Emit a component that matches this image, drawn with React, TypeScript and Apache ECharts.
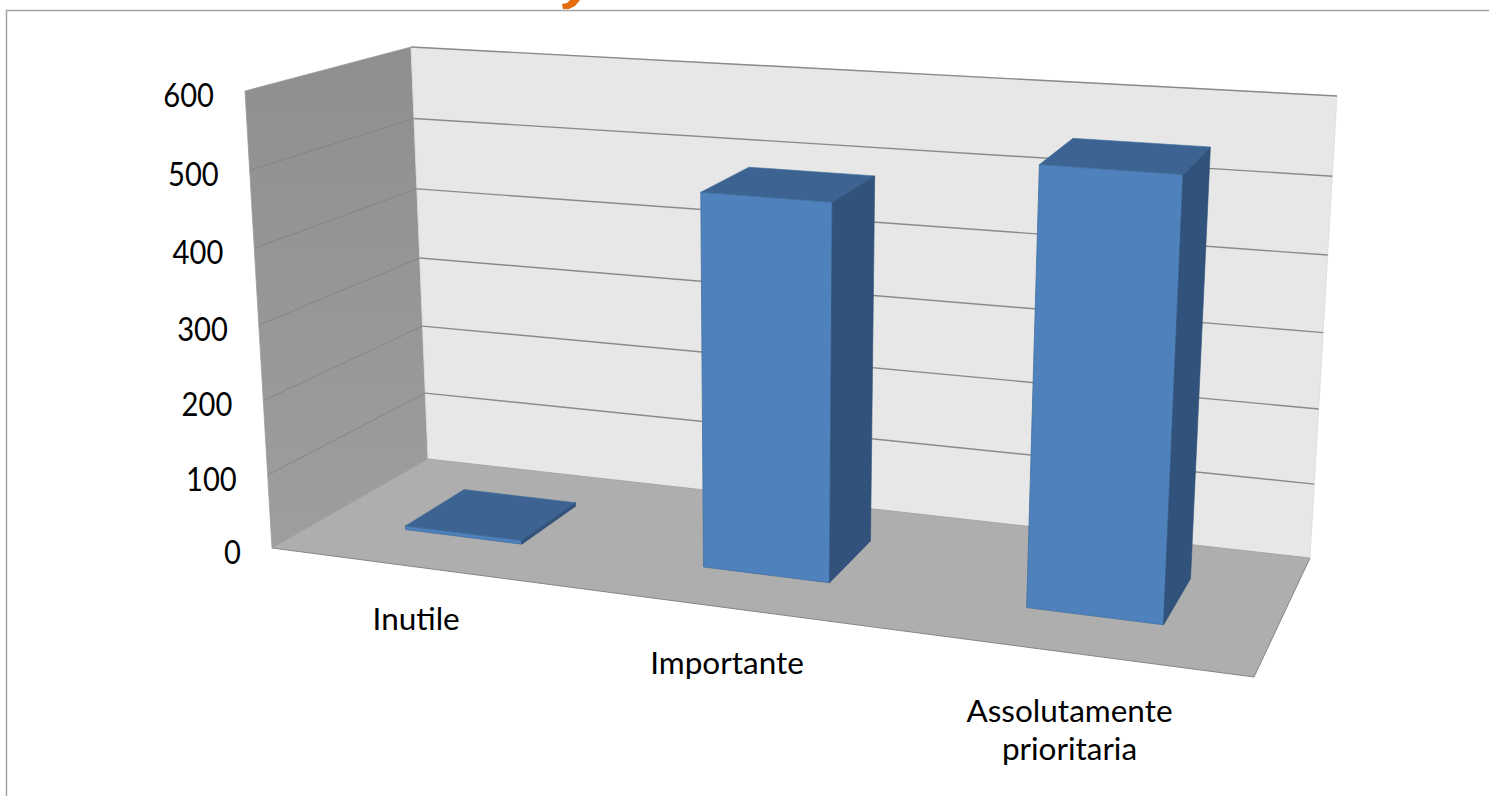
import React, { useEffect, useRef } from "react";
import * as echarts from "echarts";

const categories = ["Inutile", "Importante", "Assolutamente\nprioritaria"];
const barValues = [5, 489, 553];
const yTicks = [0, 100, 200, 300, 400, 500, 600];
const yMax = 600;

// Projection of the unit box (category, value, depth) onto the picture
const corners: number[][][][] = [
  [[[272, 548], [428, 459]], [[245, 91], [411, 47]]],
  [[[1254, 677], [1310, 558]], [[1281, 164], [1337, 96]]],
];
const weightU = [1.13, 1];
const weightV = [1.05, 1];
const weightW = [1, 1.12];

function project(u: number, v: number, w: number): number[] {
  let x = 0, y = 0, s = 0;
  for (let a = 0; a < 2; a++)
    for (let b = 0; b < 2; b++)
      for (let c = 0; c < 2; c++) {
        const k =
          (a ? u : 1 - u) * weightU[a] *
          ((b ? v : 1 - v) * weightV[b]) *
          ((c ? w : 1 - w) * weightW[c]);
        const p = corners[a][b][c];
        x += k * p[0];
        y += k * p[1];
        s += k;
      }
  return [x / s, y / s];
}

const FONT = "Lato, Carlito, 'Open Sans', sans-serif";
const GRID_LINE = "#8a8a8a";

const poly = (pts: number[][], fill: any, stroke?: string, lineWidth = 0.8) => ({
  type: "polygon",
  shape: { points: pts },
  style: { fill, stroke: stroke || "none", lineWidth },
});
const line = (pts: number[][], stroke: string, lineWidth: number) => ({
  type: "polyline",
  shape: { points: pts },
  style: { fill: "none", stroke, lineWidth },
});

function normU(params: any, px: number) {
  const c = params.coordSys;
  return (px - c.x) / c.width;
}
function normV(params: any, py: number) {
  const c = params.coordSys;
  return (c.y + c.height - py) / c.height;
}

const renderWalls = () => ({
  type: "group",
  children: [
    poly(
      [project(0, 0, 0), project(0, 1, 0), project(0, 1, 1), project(0, 0, 1)],
      new echarts.graphic.LinearGradient(0, 0, 0, 1, [
        { offset: 0, color: "#8f8f8f" },
        { offset: 1, color: "#9e9e9e" },
      ]),
      "#9a9a9a"
    ),
    poly([project(0, 0, 1), project(0, 1, 1), project(1, 1, 1), project(1, 0, 1)], "#e7e7e7", "#dcdcdc"),
    poly([project(0, 0, 0), project(0, 0, 1), project(1, 0, 1), project(1, 0, 0)], "#aeaeae"),
    line([project(0, 0, 0), project(1, 0, 0), project(1, 0, 1)], "#858585", 1),
    line([project(0, 0, 0), project(0, 0, 1), project(1, 0, 1)], "#a0a0a0", 0.8),
  ],
});

const renderGridLine = (params: any, api: any) => {
  const t = normV(params, api.coord([0, api.value(1)])[1]);
  const children: any[] = [];
  if (t > 0) {
    if (t < 1) children.push(line([project(0, t, 0), project(0, t, 1)], "#808080", 0.8));
    children.push(line([project(0, t, 1), project(1, t, 1)], GRID_LINE, 1.4));
  }
  return { type: "group", children };
};

const renderBar = (params: any, api: any) => {
  const pt = api.coord([api.value(0), api.value(1)]);
  const half = normU(params, params.coordSys.x + api.size([1, 0])[0]) * 0.2;
  const mid = normU(params, pt[0]) - 0.0025;
  const t = normV(params, pt[1]);
  const u0 = mid - half, u1 = mid + half;
  const w0 = 0.3, w1 = 0.7;
  const fl = project(u0, t, w0), fr = project(u1, t, w0);
  const bl = project(u0, t, w1), br = project(u1, t, w1);
  const flb = project(u0, 0, w0), frb = project(u1, 0, w0), brb = project(u1, 0, w1);
  return {
    type: "group",
    children: [
      poly([flb, fl, fr, frb], "#4f81bd", "#41709f"),
      poly([fl, bl, br, fr], "#3c6391", "#41709f", 0.6),
      poly([frb, fr, br, brb], "#31527a", "#2f4f76", 0.6),
    ],
  };
};

const renderYLabel = (params: any, api: any) => {
  const val = api.value(1);
  const t = normV(params, api.coord([0, val])[1]);
  const p = project(0, t, 0);
  return {
    type: "text",
    x: p[0] - 31,
    y: p[1] + 3,
    scaleX: 0.87,
    style: {
      text: String(val),
      x: 0,
      y: 0,
      textAlign: "right",
      textVerticalAlign: "middle",
      fontFamily: FONT,
      fontSize: 33.5,
      fill: "#000000",
    },
  };
};

const labelShift = [-3.5, -6, -3.5];

const renderXLabel = (params: any, api: any) => {
  const i = api.value(0);
  const u = normU(params, api.coord([i, 0])[0]);
  const p = project(u, 0, 0);
  return {
    type: "text",
    style: {
      text: categories[i],
      x: p[0] + labelShift[i],
      y: p[1] + 30 + 9 * u,
      textAlign: "center",
      textVerticalAlign: "top",
      fontFamily: FONT,
      fontSize: 31.5,
      lineHeight: 38,
      fill: "#000000",
    },
  };
};

export default function App() {
  const ref = useRef<HTMLDivElement>(null);
  useEffect(() => {
    const chart = echarts.init(ref.current!, undefined, { renderer: "svg" });
    const custom = (name: string, data: any[], renderItem: any, z: number) => ({
      type: "custom",
      name,
      data,
      renderItem,
      z,
      silent: true,
      clip: false,
      encode: { x: 0, y: 1 },
    });
    chart.setOption({
      animation: false,
      backgroundColor: "#ffffff",
      grid: { left: 100, right: 100, top: 100, bottom: 100 },
      xAxis: { type: "category", data: categories, show: false },
      yAxis: { type: "value", min: 0, max: yMax, interval: 100, show: false },
      graphic: [
        {
          type: "polyline",
          shape: { points: [[6.5, 796], [6.5, 10.5], [1489, 10.5]] },
          style: { fill: "none", stroke: "#a3a3a3", lineWidth: 1.5 },
        },
        {
          type: "polygon",
          shape: { points: [[570, 0], [580, 0], [575, 6], [569, 9], [563, 9], [562, 4], [567, 3]] },
          style: { fill: "#e46c0a" },
        },
      ],
      series: [
        custom("walls", [[0, yMax]], renderWalls, 1),
        custom("grid", yTicks.map((t) => [0, t]), renderGridLine, 2),
        custom("values", barValues.map((v, i) => [i, v]), renderBar, 3),
        custom("yLabels", yTicks.map((t) => [0, t]), renderYLabel, 4),
        custom("xLabels", categories.map((_, i) => [i, 0]), renderXLabel, 4),
      ],
    });
    return () => chart.dispose();
  }, []);
  return (
    <div
      ref={ref}
      style={{ position: "fixed", left: 0, top: 0, width: 1489, height: 796 }}
    />
  );
}
